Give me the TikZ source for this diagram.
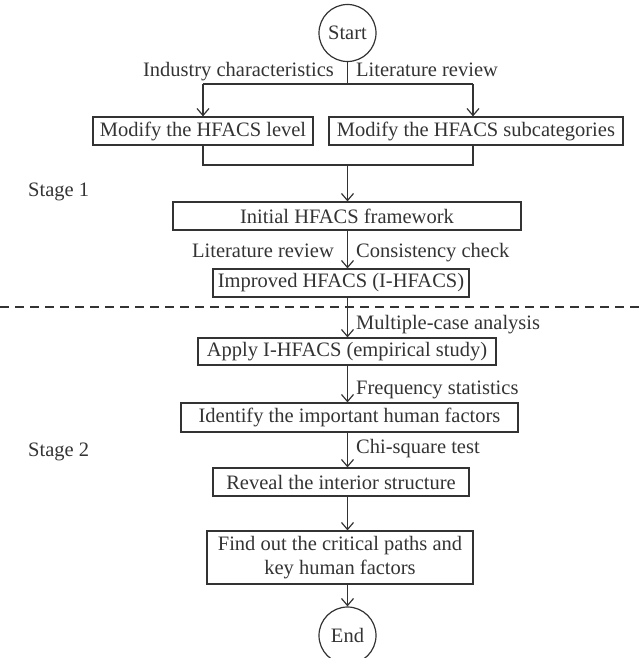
\documentclass[tikz,border=0pt]{standalone}
\usepackage{fontspec}
\setmainfont{Liberation Serif}
\usetikzlibrary{arrows.meta}
\definecolor{ink}{HTML}{333333}
\tikzset{
  stepbox/.style={draw=ink, text=ink, line width=1.2pt, inner sep=0pt, anchor=center},
  roundnode/.style={circle, draw=ink, text=ink, line width=1.2pt, inner sep=0pt, minimum size=57pt},
  flowlabel/.style={text=ink, inner sep=0pt},
  link/.style={draw=ink, line width=1.2pt},
  flow/.style={link, -{Straight Barb[length=7pt,width=12pt,line width=1.2pt]}}
}
\begin{document}
\begin{tikzpicture}[x=1pt,y=-1pt,font=\fontsize{20.5}{24}\selectfont]
\useasboundingbox (0,0) rectangle (640,658);

% terminals
\node[roundnode] (start) at (347.5,33) {Start};
\node[roundnode] (stop) at (347.5,635.5) {End};

% stage 1 boxes
\node[stepbox, minimum width=220pt, minimum height=28pt] (lvl) at (203,131) {Modify the HFACS level};
\node[stepbox, minimum width=294pt, minimum height=28pt] (sub) at (476,131) {Modify the HFACS subcategories};
\node[stepbox, minimum width=348pt, minimum height=28pt] (init) at (347,216) {Initial HFACS framework};
\node[stepbox, minimum width=256pt, minimum height=28pt] (impr) at (341,283) {Improved HFACS (I-HFACS)};

% stage 2 boxes
\node[stepbox, minimum width=298pt, minimum height=27pt] (apply) at (347,351.5) {Apply I-HFACS (empirical study)};
\node[stepbox, minimum width=337pt, minimum height=29pt] (ident) at (349.5,417.5) {Identify the important human factors};
\node[stepbox, minimum width=256pt, minimum height=28pt] (reveal) at (341,482) {Reveal the interior structure};
\node[stepbox, minimum width=266pt, minimum height=53pt, align=center] (find) at (340,557.5) {Find out the critical paths and\\key human factors};

% stage captions
\node[flowlabel, anchor=base west] (s1) at (28,196) {Stage 1};
\node[flowlabel, anchor=base west] (s2) at (28,456) {Stage 2};

% connector labels
\node[flowlabel, anchor=base east] (ind) at (334,77) {Industry characteristics};
\node[flowlabel, anchor=base west] (lit1) at (356,77) {Literature review};
\node[flowlabel, anchor=base east] (lit2) at (334,257) {Literature review};
\node[flowlabel, anchor=base west] (cons) at (356,257) {Consistency check};
\node[flowlabel, anchor=base west] (multi) at (356,329) {Multiple-case analysis};
\node[flowlabel, anchor=base west] (freq) at (356,394) {Frequency statistics};
\node[flowlabel, anchor=base west] (chi) at (356,453) {Chi-square test};

% branching points
\coordinate (split) at (347.5,84);
\coordinate (sl) at (203,84);
\coordinate (sr) at (473,84);
\coordinate (join) at (347.5,165);
\coordinate (spine) at (347.5,0);

% stage divider
\draw[draw=ink, line width=1.2pt, dash pattern=on 9pt off 6pt] (0,307) -- (640,307);

% connectors
\draw[link] (start.south) -- (split);
\draw[link] (sl) -- (sr);
\draw[flow] (sl) -- (lvl.north);
\draw[flow] (sr) -- (sr |- sub.north);
\draw[link] (lvl.south) -- (lvl.south |- join) -- (sr |- join) -- (sr |- sub.south);
\draw[flow] (join) -- (join |- init.north);
\draw[flow] (spine |- init.south) -- (spine |- impr.north);
\draw[flow] (spine |- impr.south) -- (spine |- apply.north);
\draw[flow] (spine |- apply.south) -- (spine |- ident.north);
\draw[flow] (spine |- ident.south) -- (spine |- reveal.north);
\draw[flow] (spine |- reveal.south) -- (spine |- find.north);
\draw[flow] (spine |- find.south) -- (stop.north);
\end{tikzpicture}
\end{document}
